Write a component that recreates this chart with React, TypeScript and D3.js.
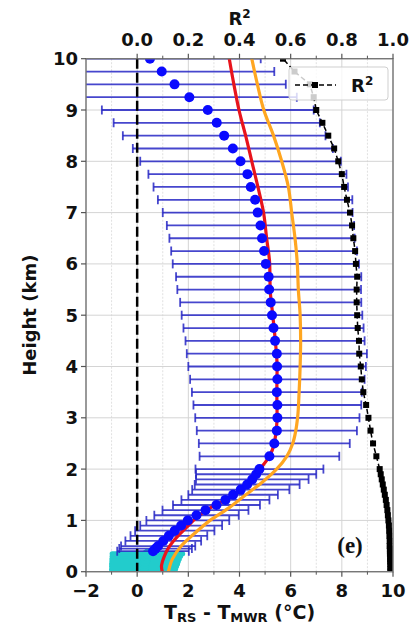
import React from "react";
import * as d3 from "d3";

// ---------- data ----------
const cyanHeights = [0, 0.05, 0.1, 0.15, 0.2, 0.25, 0.3, 0.35];
const cyanMean = [0.24, 0.25, 0.27, 0.29, 0.31, 0.33, 0.36, 0.4];
const cyanStd = [1.24, 1.25, 1.27, 1.29, 1.3, 1.32, 1.34, 1.38];

const blueHeights = [
  0.4, 0.45, 0.5, 0.6, 0.7, 0.8, 0.9, 1.0, 1.1, 1.2, 1.3, 1.4, 1.5, 1.6, 1.7, 1.8, 1.9, 2.0,
  2.25, 2.5, 2.75, 3.0, 3.25, 3.5, 3.75, 4.0, 4.25, 4.5, 4.75, 5.0, 5.25, 5.5, 5.75, 6.0,
  6.25, 6.5, 6.75, 7.0, 7.25, 7.5, 7.75, 8.0, 8.25, 8.5, 8.75, 9.0, 9.25, 9.5, 9.75, 10.0,
];
const blueMean = [
  0.62, 0.72, 0.82, 1.02, 1.24, 1.47, 1.72, 1.98, 2.32, 2.67, 3.1, 3.45, 3.75, 4.05, 4.3, 4.5, 4.65, 4.78,
  5.17, 5.36, 5.46, 5.48, 5.48, 5.46, 5.48, 5.47, 5.46, 5.39, 5.33, 5.27, 5.22, 5.16, 5.14, 5.03,
  4.96, 4.88, 4.82, 4.71, 4.61, 4.44, 4.31, 4.04, 3.74, 3.4, 3.11, 2.76, 2.04, 1.46, 0.96, 0.5,
];
const blueStd = [
  1.4, 1.42, 1.45, 1.48, 1.5, 1.55, 1.6, 1.62, 1.65, 1.68, 1.7, 1.72, 1.75, 1.9, 2.05, 2.2, 2.35, 2.5,
  2.73, 2.95, 3.13, 3.21, 3.28, 3.32, 3.41, 3.47, 3.52, 3.5, 3.52, 3.53, 3.54, 3.59, 3.62, 3.64,
  3.63, 3.62, 3.66, 3.71, 3.8, 3.8, 3.87, 3.92, 3.91, 3.96, 4.03, 4.14, 4.2, 4.35, 4.4, 4.33,
];

const redHeights = [0, 0.1, 0.2, 0.3, 0.4, 0.5, 0.6, 0.7, 0.8, 0.9, 1.0, 1.2, 1.4, 1.6, 1.8, 2.0, 2.25, 2.5, 3.0, 3.5, 4.0, 4.5, 5.0, 5.5, 6.0, 6.5, 7.0, 7.5, 8.0, 8.5, 9.0, 9.5, 10];
const redValues = [0.98, 0.95, 0.99, 1.06, 1.15, 1.27, 1.42, 1.6, 1.8, 2.0, 2.2, 2.7, 3.45, 4.05, 4.5, 4.8, 5.17, 5.36, 5.47, 5.46, 5.47, 5.4, 5.3, 5.2, 5.18, 5.06, 4.94, 4.72, 4.48, 4.24, 3.98, 3.78, 3.6];

const orangeHeights = [0, 0.25, 0.5, 0.75, 1.0, 1.25, 1.5, 1.75, 2.0, 2.25, 2.5, 2.75, 3.0, 3.5, 4.0, 4.5, 5.0, 5.5, 6.0, 6.5, 7.0, 7.5, 8.0, 8.5, 9.0, 9.5, 10];
const orangeValues = [1.22, 1.38, 1.72, 2.25, 2.85, 3.6, 4.25, 4.9, 5.45, 5.85, 6.08, 6.2, 6.27, 6.33, 6.37, 6.39, 6.37, 6.3, 6.26, 6.17, 6.04, 5.91, 5.65, 5.33, 4.95, 4.7, 4.48];

const r2Heights = [
  0, 0.05, 0.1, 0.15, 0.2, 0.25, 0.3, 0.35, 0.4, 0.45, 0.5, 0.6, 0.7, 0.8, 0.9, 1.0, 1.1, 1.2, 1.3, 1.4,
  1.5, 1.6, 1.7, 1.8, 1.9, 2.0, 2.25, 2.5, 2.75, 3.0, 3.25, 3.5, 3.75, 4.0, 4.25, 4.5, 4.75, 5.0, 5.25,
  5.5, 5.75, 6.0, 6.25, 6.5, 6.75, 7.0, 7.25, 7.5, 7.75, 8.0, 8.25, 8.5, 8.75, 9.0, 9.25, 9.5, 9.75, 10.0,
];
const r2Values = [
  0.99, 0.99, 0.99, 0.99, 0.989, 0.989, 0.989, 0.988, 0.988, 0.988, 0.987, 0.987, 0.986, 0.985, 0.984, 0.982, 0.98, 0.978, 0.975, 0.972,
  0.968, 0.964, 0.96, 0.956, 0.952, 0.948, 0.935, 0.922, 0.912, 0.904, 0.895, 0.884, 0.878, 0.874, 0.868, 0.867, 0.862, 0.86, 0.858,
  0.858, 0.86, 0.855, 0.852, 0.845, 0.84, 0.832, 0.82, 0.809, 0.8, 0.786, 0.77, 0.747, 0.724, 0.7, 0.69, 0.675, 0.615, 0.57,
];

const xTicks = [-2, 0, 2, 4, 6, 8, 10];
const xMinorTicks = [-1, 1, 3, 5, 7, 9];
const yTicks = [0, 1, 2, 3, 4, 5, 6, 7, 8, 9, 10];
const r2Ticks = [0.0, 0.2, 0.4, 0.6, 0.8, 1.0];
const r2MinorTicks = [0.1, 0.3, 0.5, 0.7, 0.9];

// ---------- layout ----------
const W = 413;
const H = 628;
const L = 86, R = 393, T = 58.7, B = 571.7;

const x = d3.scaleLinear().domain([-2, 10]).range([L, R]);
const y = d3.scaleLinear().domain([0, 10]).range([B, T]);
const xr = d3.scaleLinear().domain([0, 1]).range([x(0), x(10)]);

const FONT = "'DejaVu Sans', sans-serif";

export default function App() {
  const redLine = d3
    .line<number>()
    .x((d, i) => x(redValues[i]))
    .y((d) => y(d))
    .curve(d3.curveMonotoneY)(redHeights) as string;
  const orangeLine = d3
    .line<number>()
    .x((d, i) => x(orangeValues[i]))
    .y((d) => y(d))
    .curve(d3.curveMonotoneY)(orangeHeights) as string;
  const r2Line = d3
    .line<number>()
    .x((d, i) => xr(r2Values[i]))
    .y((d) => y(d))(r2Heights) as string;

  const cap = 4.5;

  return (
    <svg width={W} height={H} style={{ display: "block", position: "absolute", left: 0, top: 0 }}>
      <defs>
        <clipPath id="plot">
          <rect x={L} y={T} width={R - L} height={B - T} />
        </clipPath>
      </defs>
      <rect x={0} y={0} width={W} height={H} fill="#fff" />

      {/* grid */}
      <g>
        {xMinorTicks.map((t) => (
          <line key={"gm" + t} x1={x(t)} x2={x(t)} y1={T} y2={B} stroke="#e0e0e0" strokeWidth={1} strokeDasharray="2,1.5" />
        ))}
        {xTicks.map((t) => (
          <line key={"gx" + t} x1={x(t)} x2={x(t)} y1={T} y2={B} stroke="#d4d4d4" strokeWidth={1} />
        ))}
        {yTicks.map((t) => (
          <line key={"gy" + t} x1={L} x2={R} y1={y(t)} y2={y(t)} stroke="#d4d4d4" strokeWidth={1} />
        ))}
      </g>

      <g clipPath="url(#plot)">
        {/* cyan low-level error bars */}
        {cyanHeights.map((h, i) => (
          <line
            key={"c" + i}
            x1={x(cyanMean[i] - cyanStd[i])}
            x2={x(cyanMean[i] + cyanStd[i])}
            y1={y(h)}
            y2={y(h)}
            stroke="#22cccc"
            strokeWidth={5}
            strokeLinecap="round"
          />
        ))}
        {cyanHeights.map((h, i) => (
          <circle key={"cd" + i} cx={x(cyanMean[i])} cy={y(h)} r={5} fill="#22cccc" />
        ))}

        {/* blue error bars */}
        {blueHeights.map((h, i) => {
          const x1 = x(blueMean[i] - blueStd[i]);
          const x2 = x(blueMean[i] + blueStd[i]);
          const yy = y(h);
          return (
            <g key={"b" + i} stroke="#2626c4" strokeWidth={1.8} strokeOpacity={0.85}>
              <line x1={x1} x2={x2} y1={yy} y2={yy} />
              <line x1={x1} x2={x1} y1={yy - cap} y2={yy + cap} />
              <line x1={x2} x2={x2} y1={yy - cap} y2={yy + cap} />
            </g>
          );
        })}

        {/* red & orange curves */}
        <path d={redLine} fill="none" stroke="#e8141c" strokeWidth={3.2} />
        <path d={orangeLine} fill="none" stroke="#ffa620" strokeWidth={3.2} />

        {/* blue means */}
        {blueHeights.map((h, i) => (
          <circle key={"bd" + i} cx={x(blueMean[i])} cy={y(h)} r={5} fill="#0a0aff" />
        ))}

        {/* zero line */}
        <line x1={x(0)} x2={x(0)} y1={T} y2={B} stroke="#000" strokeWidth={2.5} strokeDasharray="10,4" />

        {/* R2 */}
        <path d={r2Line} fill="none" stroke="#000" strokeWidth={1.5} strokeDasharray="5,3" />
        {r2Heights.map((h, i) => (
          <rect key={"r" + i} x={xr(r2Values[i]) - 3} y={y(h) - 3} width={6} height={6} fill="#000" />
        ))}
      </g>

      {/* spines */}
      <rect x={L} y={T} width={R - L} height={B - T} fill="none" stroke="#777" strokeWidth={1.4} />

      {/* bottom axis */}
      <g fontFamily={FONT} fontWeight="bold" fontSize={18} fill="#111" textAnchor="middle">
        {xTicks.map((t) => (
          <g key={"xt" + t}>
            <line x1={x(t)} x2={x(t)} y1={B} y2={B + 5} stroke="#555" strokeWidth={1.2} />
            <text x={x(t)} y={B + 25}>{t < 0 ? "\u2212" + Math.abs(t) : t}</text>
          </g>
        ))}
        {xMinorTicks.map((t) => (
          <line key={"xmt" + t} x1={x(t)} x2={x(t)} y1={B} y2={B + 3} stroke="#555" strokeWidth={1} />
        ))}
      </g>
      <text x={(L + R) / 2} y={619} fontFamily={FONT} fontWeight="bold" fontSize={19} fill="#111" textAnchor="middle">
        T<tspan fontSize={13} dy={2.5}>RS</tspan>
        <tspan dy={-2.5}> - T</tspan>
        <tspan fontSize={13} dy={2.5}>MWR</tspan>
        <tspan dy={-2.5}> (°C)</tspan>
      </text>

      {/* left axis */}
      <g fontFamily={FONT} fontWeight="bold" fontSize={18} fill="#111" textAnchor="end">
        {yTicks.map((t) => (
          <g key={"yt" + t}>
            <line x1={L - 5} x2={L} y1={y(t)} y2={y(t)} stroke="#555" strokeWidth={1.2} />
            <text x={L - 8} y={y(t) + 6.5}>{t}</text>
          </g>
        ))}
      </g>
      <text
        transform={`translate(36, ${(T + B) / 2}) rotate(-90)`}
        fontFamily={FONT}
        fontWeight="bold"
        fontSize={18}
        fill="#111"
        textAnchor="middle"
      >
        Height (km)
      </text>

      {/* top axis */}
      <g fontFamily={FONT} fontWeight="bold" fontSize={18} fill="#111" textAnchor="middle">
        {r2Ticks.map((t) => (
          <g key={"rt" + t}>
            <line x1={xr(t)} x2={xr(t)} y1={T - 5} y2={T} stroke="#555" strokeWidth={1.2} />
            <text x={xr(t)} y={T - 13}>{t.toFixed(1)}</text>
          </g>
        ))}
        {r2MinorTicks.map((t) => (
          <line key={"rmt" + t} x1={xr(t)} x2={xr(t)} y1={T - 3} y2={T} stroke="#555" strokeWidth={1} />
        ))}
      </g>
      <text x={(L + R) / 2} y={25} fontFamily={FONT} fontWeight="bold" fontSize={18} fill="#111" textAnchor="middle">
        R<tspan fontSize={12} dy={-7}>2</tspan>
      </text>

      {/* legend */}
      <g>
        <rect x={289} y={67} width={99} height={33} rx={3} fill="#fff" fillOpacity={0.8} stroke="#cfcfcf" strokeWidth={1} />
        <line x1={295} x2={336} y1={85} y2={85} stroke="#000" strokeWidth={1.5} strokeDasharray="5,3" />
        <rect x={312} y={82} width={6} height={6} fill="#000" />
        <text x={351} y={92} fontFamily={FONT} fontWeight="bold" fontSize={18} fill="#111">
          R<tspan fontSize={12} dy={-7}>2</tspan>
        </text>
      </g>

      {/* panel label */}
      <text x={350} y={553} fontFamily="'Liberation Serif', serif" fontWeight="bold" fontSize={23} fill="#111" textAnchor="middle">
        (e)
      </text>
    </svg>
  );
}
